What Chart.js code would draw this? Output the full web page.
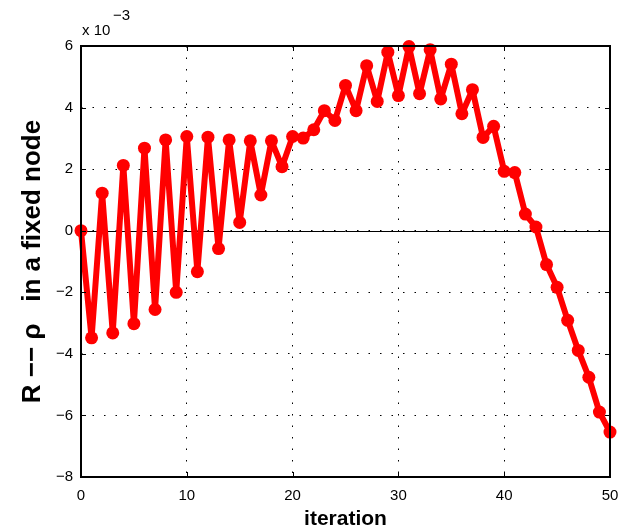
<!DOCTYPE html>
<html>
<head>
<meta charset="utf-8">
<script src="https://cdn.jsdelivr.net/npm/chart.js@4/dist/chart.umd.min.js"></script>
<style>
  html, body { margin: 0; padding: 0; background: #fff; }
  #wrap { width: 629px; height: 532px; }
</style>
</head>
<body>
<div id="wrap"><canvas id="residual" width="629" height="532"></canvas></div>
<script>
// values are in units of 1e-3 (matlab style "x 10^-3" axis)
var iterations = [];
for (var i = 0; i <= 50; i++) iterations.push(i);
var residual = [
  0, -3.48, 1.22, -3.32, 2.12, -3.02, 2.68, -2.56, 2.95, -2.0,
  3.06, -1.33, 3.04, -0.58, 2.95, 0.27, 2.92, 1.16, 2.92, 2.08,
  3.06, 3.01, 3.28, 3.9, 3.58, 4.72, 3.9, 5.36, 4.2, 5.8,
  4.39, 5.98, 4.45, 5.88, 4.28, 5.41, 3.8, 4.58, 3.03, 3.39,
  1.93, 1.89, 0.54, 0.12, -1.1, -1.84, -2.91, -3.89, -4.76, -5.89,
  -6.54
];
var xTicks = [0, 10, 20, 30, 40, 50];
var yTicks = [-8, -6, -4, -2, 0, 2, 4, 6];
var exponent = "\u22123";

var pts = iterations.map(function (x, k) { return { x: x, y: residual[k] }; });
var fontFam = "'Liberation Sans', Arial, Helvetica, sans-serif";

var boxPlugin = {
  id: "box",
  beforeDatasetsDraw: function (chart) {
    var c = chart.ctx, a = chart.chartArea;
    var ys = chart.scales.y;
    c.save();
    // zero line
    var y0 = Math.round(ys.getPixelForValue(0)) + 0.5;
    c.strokeStyle = "#000";
    c.lineWidth = 1;
    c.beginPath();
    c.moveTo(a.left, y0);
    c.lineTo(a.right, y0);
    c.stroke();
    c.restore();
  },
  afterDraw: function (chart) {
    var c = chart.ctx, a = chart.chartArea;
    var xs = chart.scales.x, ys = chart.scales.y;
    c.save();
    c.strokeStyle = "#000";
    c.lineWidth = 2;
    c.strokeRect(a.left, a.top, a.right - a.left, a.bottom - a.top);
    c.lineWidth = 1;
    // inward ticks
    c.beginPath();
    xTicks.forEach(function (v) {
      var px = Math.round(xs.getPixelForValue(v)) + 0.5;
      c.moveTo(px, a.bottom); c.lineTo(px, a.bottom - 5);
      c.moveTo(px, a.top); c.lineTo(px, a.top + 5);
    });
    yTicks.forEach(function (v) {
      var py = Math.round(ys.getPixelForValue(v)) + 0.5;
      c.moveTo(a.left, py); c.lineTo(a.left + 5, py);
      c.moveTo(a.right, py); c.lineTo(a.right - 5, py);
    });
    c.stroke();
    // exponent label
    c.fillStyle = "#000";
    c.textBaseline = "alphabetic";
    c.textAlign = "left";
    c.font = "15px " + fontFam;
    c.fillText("x 10", a.left + 1, a.top - 11);
    c.fillText(exponent, a.left + 32, a.top - 26);
    c.restore();
  }
};

var ctx = document.getElementById("residual").getContext("2d");
var chart = new Chart(ctx, {
  type: "line",
  data: {
    datasets: [
      {
        data: pts,
        borderColor: "rgb(255, 0, 0)",
        backgroundColor: "rgb(255, 0, 0)",
        borderWidth: 6,
        borderJoinStyle: "round",
        borderCapStyle: "round",
        pointRadius: 6.5,
        pointBorderWidth: 0,
        pointBackgroundColor: "rgb(255, 0, 0)",
        tension: 0,
        clip: false,
      },
    ],
  },
  options: {
    responsive: false,
    animation: false,
    layout: { padding: { left: 0, right: 19, top: 46, bottom: 0 } },
    plugins: { legend: { display: false }, tooltip: { enabled: false } },
    scales: {
      x: {
        type: "linear",
        min: 0,
        max: 50,
        afterBuildTicks: function (s) { s.ticks = xTicks.map(function (v) { return { value: v }; }); },
        afterFit: function (s) { s.height = 55; },
        ticks: { color: "#000", padding: 10, font: { family: fontFam, size: 15 } },
        grid: { color: "#000", lineWidth: 1, drawTicks: false },
        border: { display: false, dash: [1.5, 10] },
        title: {
          display: true,
          text: "iteration",
          color: "#000",
          font: { family: fontFam, size: 21, weight: "bold" },
          padding: { top: 0, bottom: 0 },
        },
      },
      y: {
        min: -8,
        max: 6,
        afterBuildTicks: function (s) { s.ticks = yTicks.map(function (v) { return { value: v }; }); },
        afterFit: function (s) { s.width = 81; },
        ticks: {
          color: "#000",
          padding: 8,
          font: { family: fontFam, size: 15 },
          callback: function (v) { return v < 0 ? "\u2212" + Math.abs(v) : String(v); },
        },
        grid: { color: "#000", lineWidth: 1, drawTicks: false },
        border: { display: false, dash: [1.5, 10] },
        title: {
          display: true,
          text: "R \u2212\u2212 \u03c1   in a fixed node",
          color: "#000",
          font: { family: fontFam, size: 26, weight: "bold" },
          padding: { top: 17, bottom: 0 },
        },
      },
    },
  },
  plugins: [boxPlugin],
});
</script>
</body>
</html>
